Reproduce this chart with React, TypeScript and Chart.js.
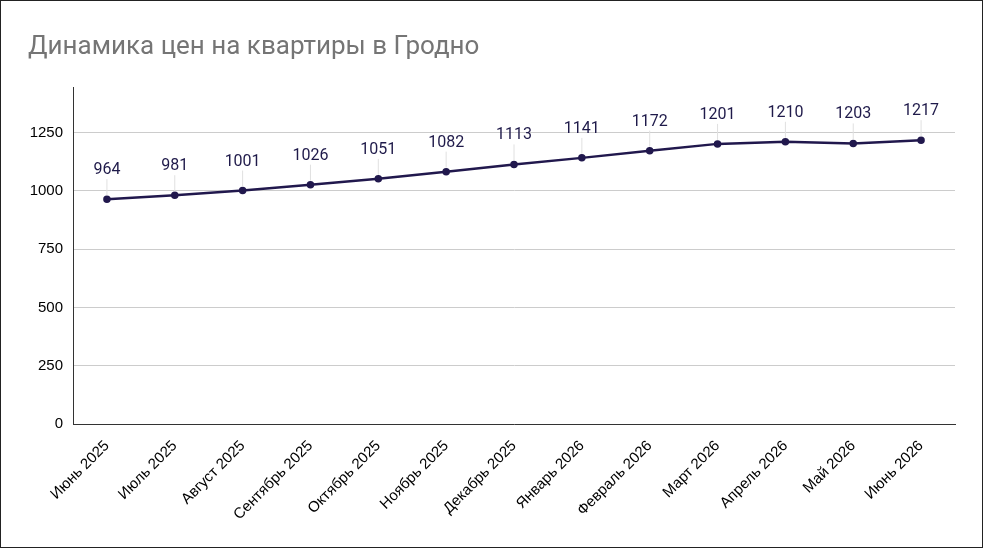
import { useEffect, useRef } from "react";
import { Chart, registerables, Plugin } from "chart.js";

Chart.register(...registerables);

const title = "Динамика цен на квартиры в Гродно";

const months = [
  "Июнь 2025",
  "Июль 2025",
  "Август 2025",
  "Сентябрь 2025",
  "Октябрь 2025",
  "Ноябрь 2025",
  "Декабрь 2025",
  "Январь 2026",
  "Февраль 2026",
  "Март 2026",
  "Апрель 2026",
  "Май 2026",
  "Июнь 2026",
];

const prices = [964, 981, 1001, 1026, 1051, 1082, 1113, 1141, 1172, 1201, 1210, 1203, 1217];

const yTicks = [0, 250, 500, 750, 1000, 1250];

// labels above each point with a thin leader line, like google charts
const pointLabels: Plugin<"line"> = {
  id: "pointLabels",
  afterDatasetsDraw(chart) {
    const ctx = chart.ctx;
    const meta = chart.getDatasetMeta(0);
    ctx.save();
    meta.data.forEach((pt, i) => {
      const { x, y } = pt.getProps(["x", "y"], true);
      ctx.strokeStyle = "#e0e0e0";
      ctx.lineWidth = 1;
      ctx.beginPath();
      ctx.moveTo(x, y - 4);
      ctx.lineTo(x, y - 20);
      ctx.stroke();
      ctx.fillStyle = "#1f1a4a";
      ctx.font = "16px Roboto";
      ctx.textAlign = "center";
      ctx.textBaseline = "middle";
      ctx.fillText(String(prices[i]), x, y - 29);
    });
    ctx.restore();
  },
};

export default function App() {
  const canvasRef = useRef<HTMLCanvasElement>(null);
  const chartRef = useRef<Chart | null>(null);

  useEffect(() => {
    if (!canvasRef.current) return;
    if (chartRef.current) chartRef.current.destroy();

    chartRef.current = new Chart(canvasRef.current, {
      type: "line",
      data: {
        labels: months,
        datasets: [
          {
            data: prices,
            borderColor: "#21184d",
            backgroundColor: "#21184d",
            borderWidth: 2.5,
            pointRadius: 2.5,
            pointHoverRadius: 2.5,
            tension: 0,
          },
        ],
      },
      options: {
        animation: false,
        responsive: true,
        maintainAspectRatio: false,
        layout: { padding: { left: 27, right: 27, bottom: 0 } },
        plugins: {
          legend: { display: false },
          tooltip: { enabled: false },
          title: {
            display: true,
            text: title,
            align: "start",
            color: "#757575",
            font: { family: "Roboto", size: 26, weight: "normal" },
            padding: { top: 31, bottom: 24 },
          },
        },
        scales: {
          x: {
            offset: true,
            grid: { display: false },
            border: { color: "#333", width: 1 },
            ticks: {
              color: "#000",
              font: { family: "Liberation Sans", size: 15 },
              maxRotation: 45,
              minRotation: 45,
              autoSkip: false,
              padding: 5,
            },
            afterFit: (scale) => {
              scale.height = 123;
              scale.paddingLeft = 0;
              scale.paddingRight = 0;
            },
          },
          y: {
            min: 0,
            max: 1444,
            afterBuildTicks: (axis) => {
              axis.ticks = yTicks.map((v) => ({ value: v }));
            },
            grid: { color: "#cccccc", drawTicks: false },
            border: { color: "#333", width: 1 },
            ticks: {
              color: "#000",
              font: { family: "Liberation Sans", size: 15 },
              padding: 10,
              callback: (v) => String(v),
            },
            afterFit: (scale) => {
              scale.width = 45;
            },
          },
        },
      },
      plugins: [pointLabels],
    });

    return () => {
      if (chartRef.current) {
        chartRef.current.destroy();
        chartRef.current = null;
      }
    };
  }, []);

  return (
    <div
      style={{
        position: "absolute",
        left: 0,
        top: 0,
        width: 983,
        height: 548,
        boxSizing: "border-box",
        border: "1px solid #222",
        background: "#fff",
      }}
    >
      <canvas ref={canvasRef} />
    </div>
  );
}
